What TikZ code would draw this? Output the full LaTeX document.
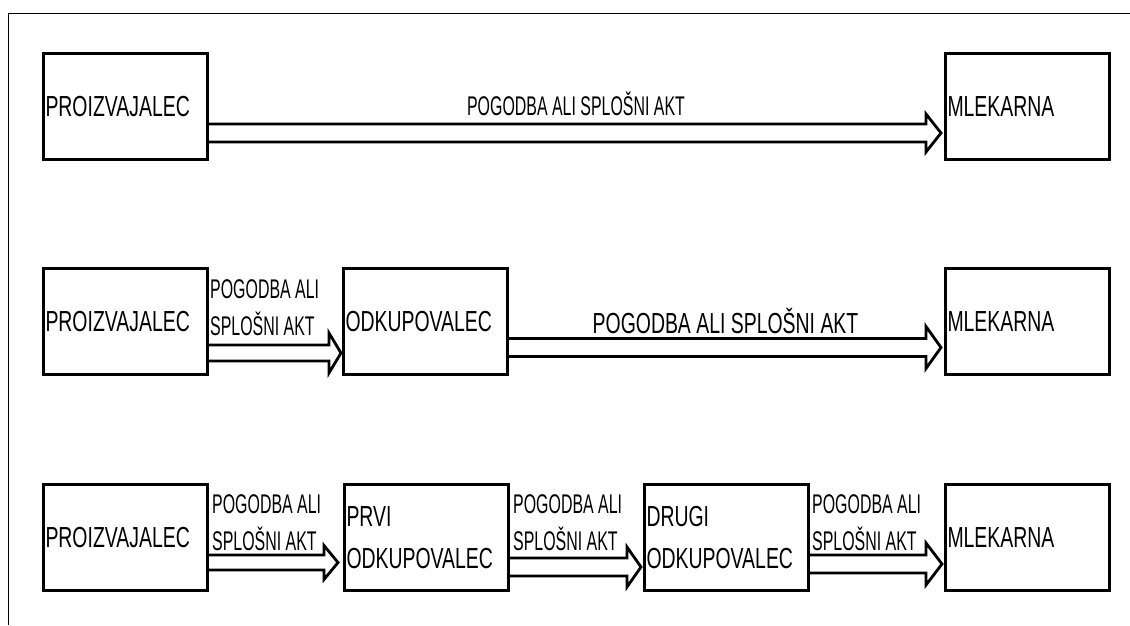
\documentclass[tikz,border=0pt]{standalone}
\usepackage{fontspec}
\setmainfont{Liberation Sans}
\newfontfamily\boxfont[FakeStretch=0.67]{Liberation Sans}
\newfontfamily\lblfont[FakeStretch=0.59]{Liberation Sans}
\usetikzlibrary{calc}
\tikzset{
  boxnode/.style={draw, line width=3pt, anchor=north west, minimum width=164pt,
    minimum height=106pt, inner xsep=2pt, text width=160pt, align=left,
    font=\boxfont\fontsize{29}{42}\selectfont},
  arrline/.style={draw, line width=2.8pt, line join=miter},
  lbl/.style={inner sep=0pt, align=left, anchor=base west,
    font=\lblfont\fontsize{27}{37}\selectfont},
  framel/.style={line width=1pt}
}
\newcommand\dblarr[7]{%
  \coordinate (yc) at (0,#3);
  \draw[arrline] ($(#1.east |- yc)+(0,-#4)$)
     -- ($(#2.west |- yc)+({-#7-#6},{-#4})$)
     -- ($(#2.west |- yc)+({-#7-#6},{-#5})$)
     -- ($(#2.west |- yc)+({-#7},0)$)
     -- ($(#2.west |- yc)+({-#7-#6},{#5})$)
     -- ($(#2.west |- yc)+({-#7-#6},{#4})$)
     -- ($(#1.east |- yc)+(0,#4)$);
}
\begin{document}
\begin{tikzpicture}[x=1pt,y=-1pt]
\useasboundingbox (0,0) rectangle (1130,625);
\coordinate (f1) at (1130,13);
\coordinate (f0) at (8,13);
\coordinate (f2) at (8,625);
\draw[framel] (f1) -- (f0) -- (f2);

% row 1
\node[boxnode] (p1) at (42,52) {PROIZVAJALEC};
\node[boxnode] (m1) at (944,52) {MLEKARNA};
\dblarr{p1}{m1}{133}{9}{19}{15}{3}
\node[lbl, anchor=base] (l1) at (576,115) {POGODBA ALI SPLOŠNI AKT};

% row 2
\node[boxnode] (p2) at (42,267) {PROIZVAJALEC};
\node[boxnode] (o2) at (342,267) {ODKUPOVALEC};
\node[boxnode] (m2) at (944,267) {MLEKARNA};
\dblarr{p2}{o2}{353}{8}{20}{12}{1}
\dblarr{o2}{m2}{347.5}{9}{21}{15}{3}
\node[lbl] (l2a) at (210,335) {POGODBA ALI\\SPLOŠNI AKT};
\node[inner sep=0pt, anchor=base, font=\boxfont\fontsize{29}{35}\selectfont] (l2b) at (725.5,333) {POGODBA ALI SPLOŠNI AKT};

% row 3
\node[boxnode] (p3) at (42,483) {PROIZVAJALEC};
\node[boxnode] (a3) at (343,483) {PRVI\\ODKUPOVALEC};
\node[boxnode] (b3) at (643,483) {DRUGI\\ODKUPOVALEC};
\node[boxnode] (m3) at (944,483) {MLEKARNA};
\dblarr{p3}{a3}{562.5}{7.5}{17}{14}{5}
\dblarr{a3}{b3}{567}{9}{20}{14}{2}
\dblarr{b3}{m3}{564}{9}{21}{16}{2}
\node[lbl] (l3a) at (212,550) {POGODBA ALI\\SPLOŠNI AKT};
\node[lbl] (l3b) at (513,550) {POGODBA ALI\\SPLOŠNI AKT};
\node[lbl] (l3c) at (812,550) {POGODBA ALI\\SPLOŠNI AKT};
\end{tikzpicture}
\end{document}
